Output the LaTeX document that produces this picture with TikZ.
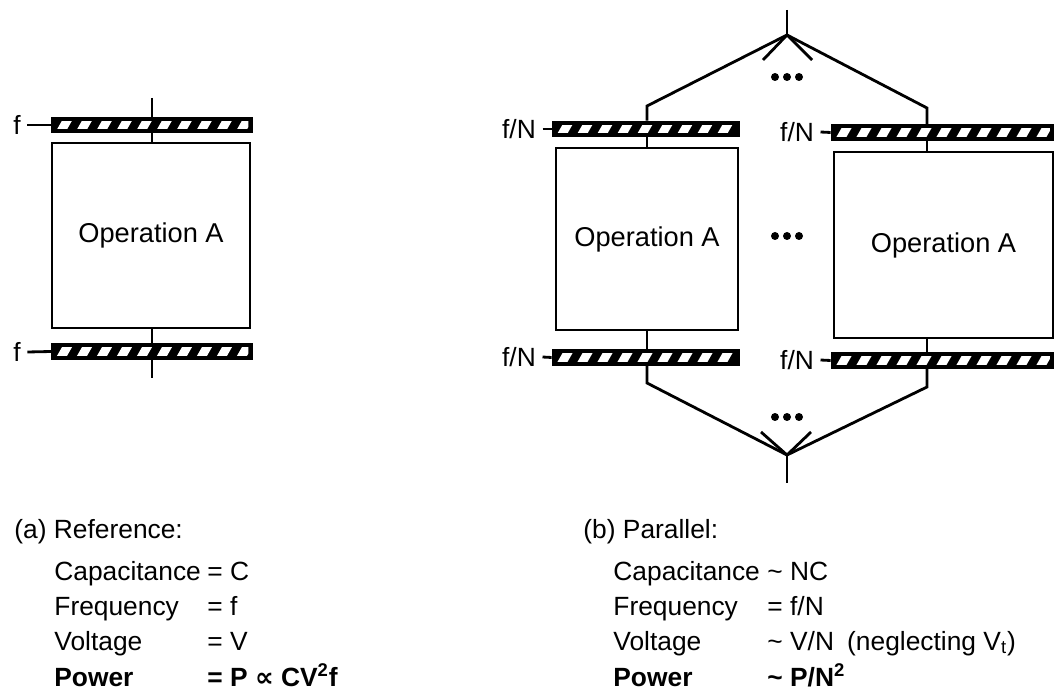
\documentclass[tikz,border=0pt]{standalone}
\usepackage{fontspec}
\setmainfont{Liberation Sans}
\newfontfamily\symfont{DejaVu Sans}
\usetikzlibrary{calc}

\tikzset{
  latch/.style={draw=black, fill=black, minimum height=0.28cm, inner sep=0pt,
    path picture={
      \clip ([shift={(0.06cm,-0.065cm)}]path picture bounding box.north west) rectangle ([shift={(-0.06cm,0.065cm)}]path picture bounding box.south east);
      \foreach \k in {0,...,12}
        \fill[white] ([xshift=\k*0.4cm+0.06cm]path picture bounding box.south west) -- ++(0.2cm,0) -- ++(0.16cm,0.28cm) -- ++(-0.2cm,0) -- cycle;
    }},
  opbox/.style={draw, fill=white, inner sep=0pt},
  tag/.style={inner sep=3pt},
  row/.style={anchor=base west, inner sep=0pt},
}

\begin{document}
\begin{tikzpicture}[x=0.02cm, y=-0.02cm, line width=1.6pt,
    every node/.style={font=\fontsize{15}{18}\selectfont}]
    \useasboundingbox (0,0) rectangle (1057,695);

    % (a) reference
    \node[latch, minimum width=3.98cm] (aTop) at (152,125) {};
    \node[opbox, minimum width=3.96cm, minimum height=3.7cm, font=\fontsize{15.5}{18}\selectfont] (opA) at (151,235.5) {Operation A};
    \node[latch, minimum width=3.98cm] (aBot) at (152,351.5) {};
    \node[tag] (fA1) at (17,125) {f};
    \node[tag] (fA2) at (17,352) {f};
    \coordinate (aIn) at (152,98);
    \coordinate (aOut) at (152,378);
    \draw (aIn) -- (aTop.north);
    \draw (aTop.south) -- (opA.north -| aTop.south);
    \draw (opA.south -| aBot.north) -- (aBot.north);
    \draw (aBot.south) -- (aOut);
    \draw (fA1.east) -- (aTop.west);
    \draw (fA2.east) -- (aBot.west);

    % (b) parallel
    \node[latch, minimum width=3.72cm] (bTopL) at (646,129) {};
    \node[latch, minimum width=4.42cm] (bTopR) at (942.5,132.5) {};
    \node[opbox, minimum width=3.64cm, minimum height=3.64cm, font=\fontsize{15.5}{18}\selectfont] (opB1) at (647,239) {Operation A};
    \node[opbox, minimum width=4.38cm, minimum height=3.72cm, font=\fontsize{15.5}{18}\selectfont] (opB2) at (943.5,245) {Operation A};
    \node[latch, minimum width=3.72cm] (bBotL) at (646,357.5) {};
    \node[latch, minimum width=4.42cm] (bBotR) at (942.5,360.5) {};
    \node[tag] (fB1) at (519,129) {f/N};
    \node[tag] (fB2) at (797,132) {f/N};
    \node[tag] (fB3) at (519,357) {f/N};
    \node[tag] (fB4) at (797,360) {f/N};
    \draw (fB1.east) -- (bTopL.west);
    \draw (fB2.east) -- (bTopR.west);
    \draw (fB3.east) -- (bBotL.west);
    \draw (fB4.east) -- (bBotR.west);

    \coordinate (topIn) at (787,10);
    \coordinate (topApex) at (787,35);
    \coordinate (bendTL) at (647,106);
    \coordinate (bendTR) at (927,108);
    \coordinate (botOut) at (787,483);
    \coordinate (botApex) at (787,455);
    \coordinate (bendBL) at (647,383);
    \coordinate (bendBR) at (927,387);

    \draw (topIn) -- (topApex);
    \draw (bTopL.north -| bendTL) -- (bendTL) -- (topApex) -- (bendTR) -- (bTopR.north -| bendTR);
    \draw (topApex) -- ++(-24,25);
    \draw (topApex) -- ++(25,25);
    \draw (bTopL.south -| bendTL) -- (opB1.north -| bendTL);
    \draw (bTopR.south -| bendTR) -- (opB2.north -| bendTR);
    \draw (opB1.south -| bendBL) -- (bBotL.north -| bendBL);
    \draw (opB2.south -| bendBR) -- (bBotR.north -| bendBR);
    \draw (bBotL.south -| bendBL) -- (bendBL) -- (botApex) -- (bendBR) -- (bBotR.south -| bendBR);
    \draw (botApex) -- ++(-26,-23);
    \draw (botApex) -- ++(24,-23);
    \draw (botApex) -- (botOut);

    % fan dots
    \foreach \cx/\cy in {787/77, 787/236, 787/417}
      \foreach \dx in {-12,0,12}
        \fill (\cx+\dx,\cy) circle[radius=0.08cm];

    % summary
    \node[row] (capA) at (13,538) {(a) Reference:};
    \node[row] (capA1) at (53,580) {Capacitance};
    \node[row] (valA1) at (206,580) {= C};
    \node[row] (capA2) at (53,615) {Frequency};
    \node[row] (valA2) at (206,615) {= f};
    \node[row] (capA3) at (53,650) {Voltage};
    \node[row] (valA3) at (206,650) {= V};
    \node[row, font=\fontsize{15}{18}\selectfont\bfseries] (capA4) at (53,686) {Power};
    \node[row, font=\fontsize{15}{18}\selectfont\bfseries] (valA4) at (206,686) {= P {\symfont ∝} CV\textsuperscript{2}f};

    \node[row] (capB) at (582,538) {(b) Parallel:};
    \node[row] (capB1) at (612,580) {Capacitance};
    \node[row] (valB1) at (766,580) {\textasciitilde{} NC};
    \node[row] (capB2) at (612,615) {Frequency};
    \node[row] (valB2) at (766,615) {= f/N};
    \node[row] (capB3) at (612,650) {Voltage};
    \node[row] (valB3) at (766,650) {\textasciitilde{} V/N\enspace(neglecting V\textsubscript{t})};
    \node[row, font=\fontsize{15}{18}\selectfont\bfseries] (capB4) at (612,686) {Power};
    \node[row, font=\fontsize{15}{18}\selectfont\bfseries] (valB4) at (766,686) {\textasciitilde{} P/N\textsuperscript{2}};
\end{tikzpicture}
\end{document}
